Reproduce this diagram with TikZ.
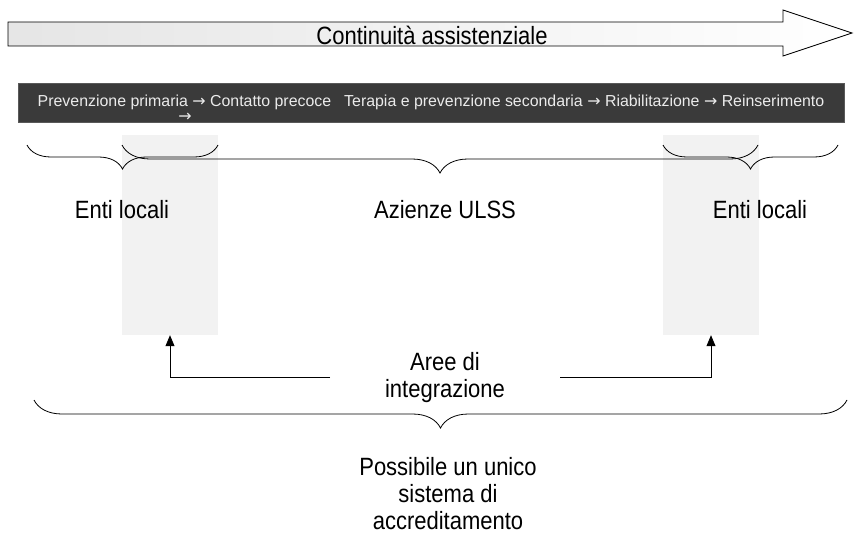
\documentclass[tikz,border=0pt]{standalone}
\usepackage{fontspec}
\setmainfont{Liberation Sans}
\newfontfamily\lblfont[FakeStretch=0.88]{Liberation Sans}
\newfontfamily\arrowfont{DejaVu Sans}
\usepackage{tikz}
\usetikzlibrary{positioning, arrows.meta, decorations.pathreplacing}

\definecolor{bardark}{RGB}{58,58,58}
\definecolor{areagray}{RGB}{242,242,242}
\newcommand{\fasearr}{{\arrowfont\char"2192}}

\tikzset{
  lbl/.style={font=\lblfont\fontsize{25}{27}\selectfont, align=center, inner sep=0pt},
  area/.style={fill=areagray, minimum width=96pt, minimum height=200pt, inner sep=0pt},
  brc/.style={decorate, decoration={brace, mirror, amplitude=#1}, line width=0.8pt},
  up/.style={-{Triangle[length=11pt,width=9pt]}, line width=0.8pt}
}

\begin{document}
\begin{tikzpicture}[x=1pt, y=-1pt]
    \useasboundingbox (0,0) rectangle (854,535);

    % Big arrow on top
    \draw[left color=gray!20, right color=white, line width=0.8pt]
      (8,22) -- (783,22) -- (783,10) -- (852,33) -- (783,56) -- (783,46) -- (8,46) -- cycle;
    \node[lbl] (cont) at (432,35) {Continuità assistenziale};

    % Dark bar with the phases
    \node[draw=gray!70!black, fill=bardark, text=white!92!black, minimum width=826pt, minimum height=39pt,
          inner sep=0pt, font=\fontsize{15.9}{18}\selectfont] (fasi) at (431,102.5)
      {Prevenzione primaria \fasearr{} Contatto precoce\hspace{13pt}Terapia e prevenzione secondaria \fasearr{} Riabilitazione \fasearr{} Reinserimento};
    \node[text=white!92!black, inner sep=0pt, font=\fontsize{15.9}{18}\selectfont] (wrap) at (185,117) {\fasearr};

    % Integration areas
    \foreach \n/\x in {areaL/170, areaR/711} {
      \node[area] (\n) at (\x,235) {};
    }

    % Braces
    \foreach \a/\b/\h in {27/218/24, 122/758/28, 663/838/24} {
      \draw[brc=\h pt] (\a,145) -- (\b,145);
    }
    \draw[brc=28pt] (34,400) -- (847,400);

    % Labels
    \node[lbl] (entiL) at (122,210) {Enti locali};
    \node[lbl] (ulss) at (445,210) {Azienze ULSS};
    \node[lbl] (entiR) at (760,210) {Enti locali};
    \node[lbl] (aree) at (445,378) {Aree di\\integrazione};
    \node[lbl] (accr) at (448,494) {Possibile un unico\\sistema di\\accreditamento};

    % Arrows to the areas
    \coordinate (lineL) at (330,377);
    \coordinate (lineR) at (560,377);
    \draw[up] (lineL) -| (areaL.south);
    \draw[up] (lineR) -| (areaR.south);
\end{tikzpicture}
\end{document}
